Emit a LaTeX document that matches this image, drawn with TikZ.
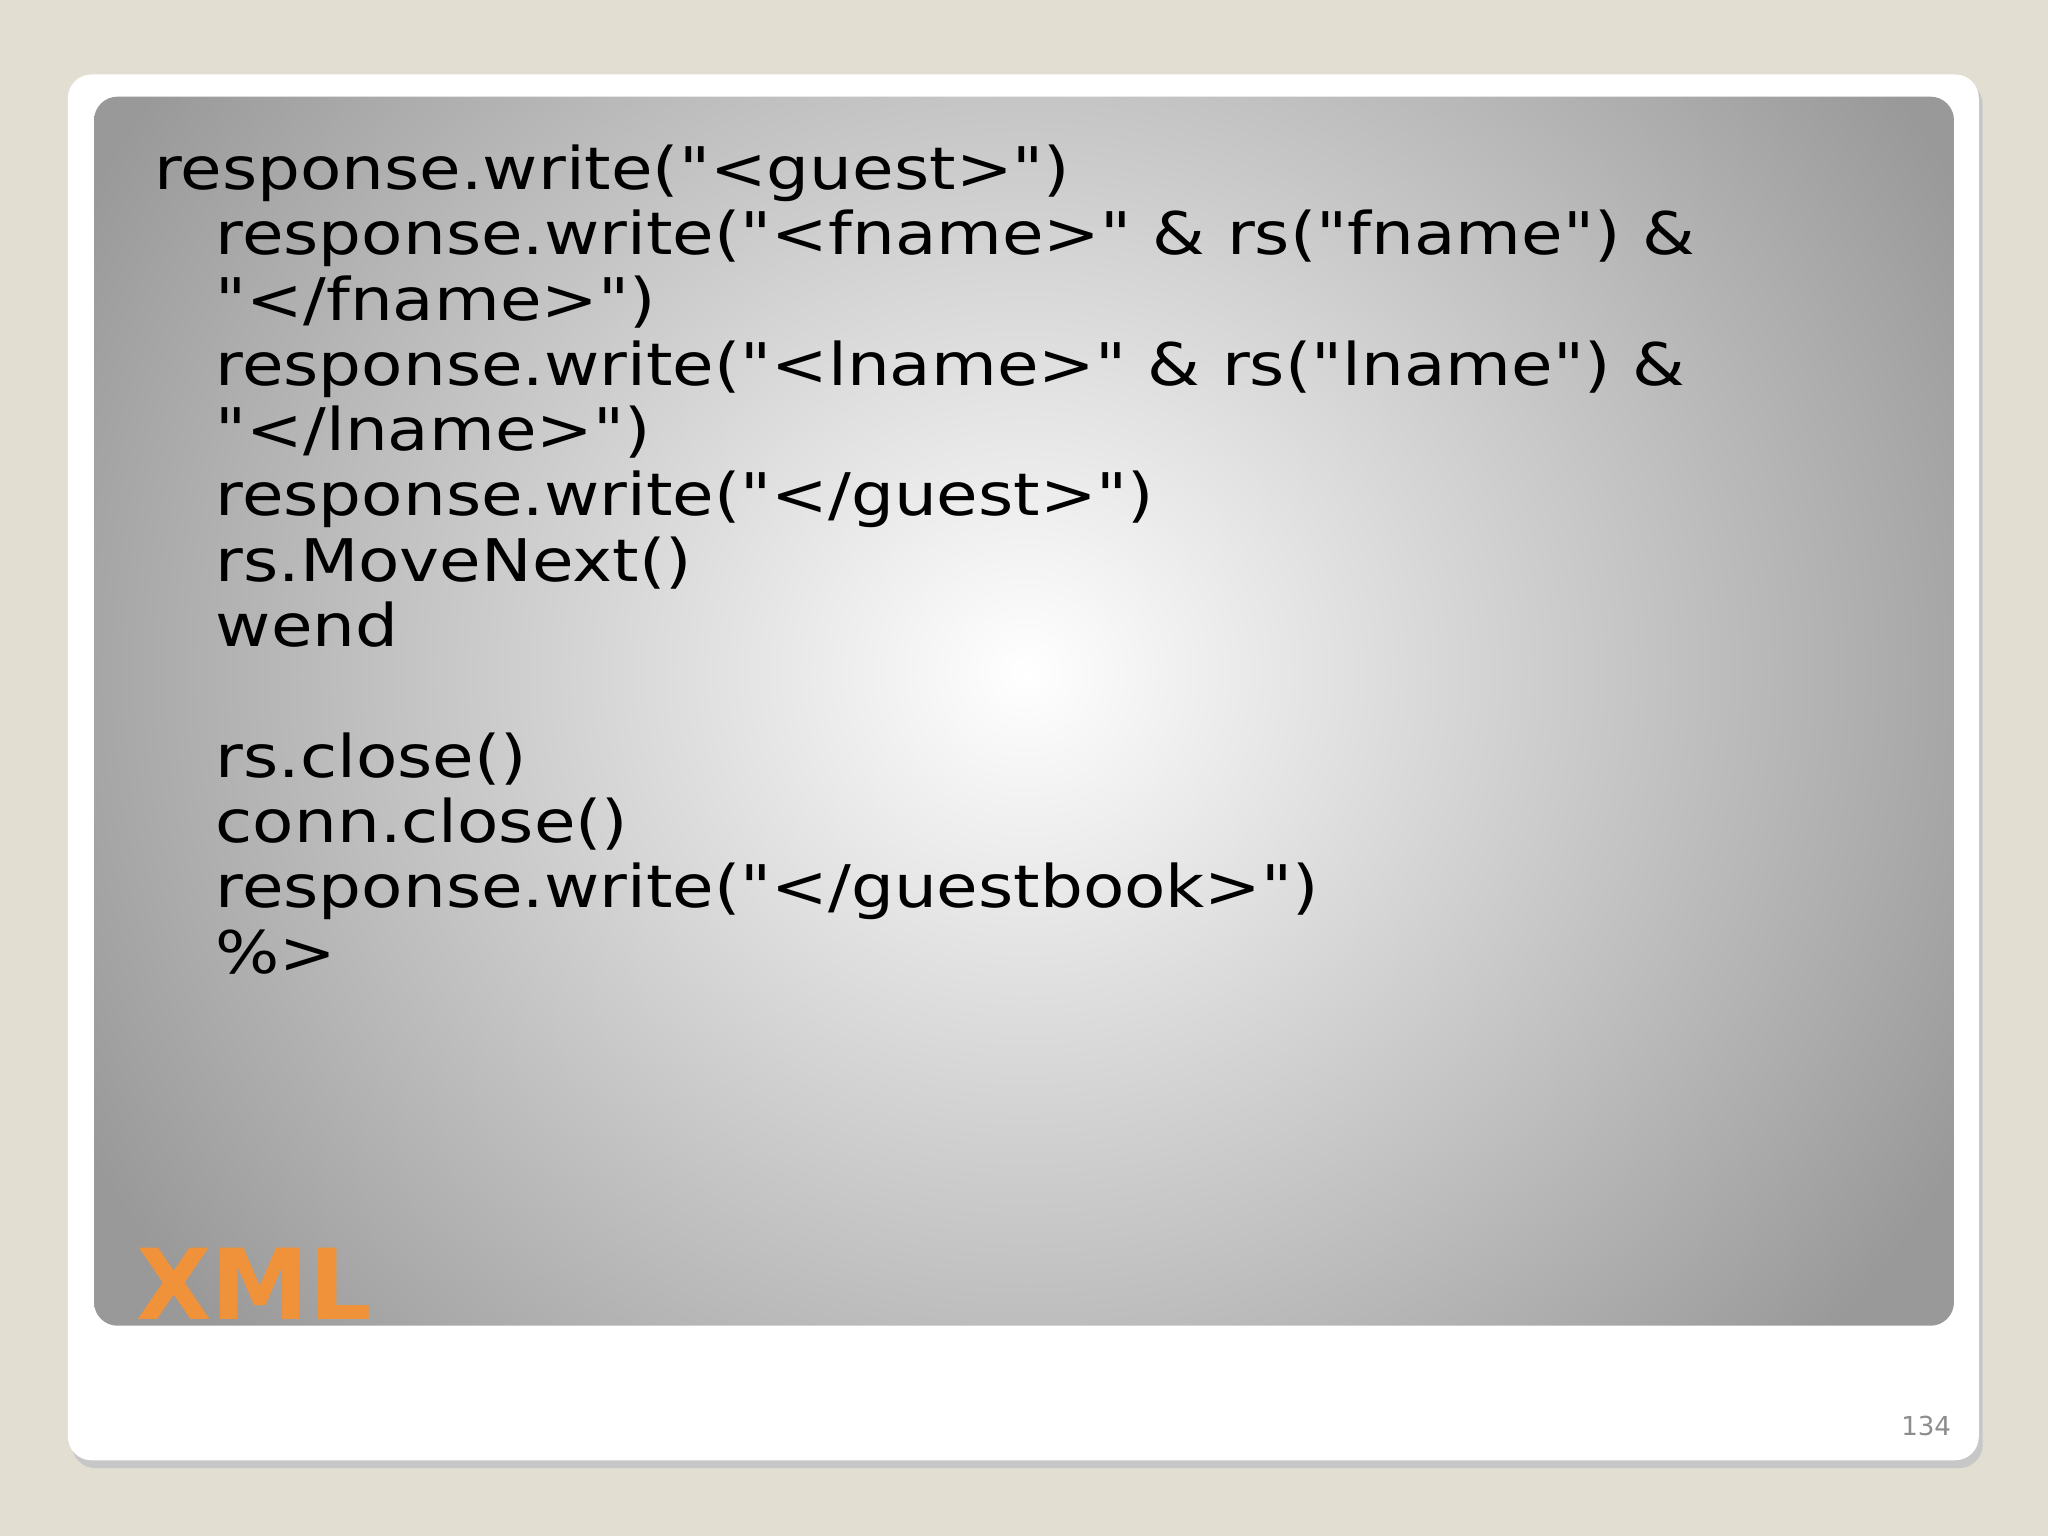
\documentclass[tikz,border=0pt]{standalone}
\usepackage{fontspec}
\setmainfont{DejaVu Sans}
\newfontfamily\codefont{DejaVu Sans}[FakeStretch=1.15]
\definecolor{bg}{HTML}{E2DED2}
\definecolor{xmlc}{HTML}{F0923A}
\begin{document}
\begin{tikzpicture}[x=1pt,y=-1pt,
  code/.style={anchor=base west,inner sep=0pt,font=\codefont\fontsize{45}{50}\selectfont}]
\useasboundingbox (0,0) rectangle (1568,1176);
\fill[bg] (0,0) rectangle (1568,1176);
\fill[black!22,rounded corners=18] (55,62) rectangle (1518,1124);
\fill[white,rounded corners=18] (52,57) rectangle (1515,1118);
\begin{scope}
\clip[rounded corners=18] (72,74) rectangle (1496,1015);
\shade[inner color=white,outer color=black!40] (-30,-260) rectangle (1600,1290);
\end{scope}
\node[code] (l1) at (118,145) {response.write("<guest>")};
\node[code] (l2) at (165,195) {response.write("<fname>" \& rs("fname") \&};
\node[code] (l3) at (165,245) {"</fname>")};
\node[code] (l4) at (165,295) {response.write("<lname>" \& rs("lname") \&};
\node[code] (l5) at (165,345) {"</lname>")};
\node[code] (l6) at (165,395) {response.write("</guest>")};
\node[code] (l7) at (165,445) {rs.MoveNext()};
\node[code] (l8) at (165,495) {wend};
\node[code] (l9) at (165,595) {rs.close()};
\node[code] (l10) at (165,645) {conn.close()};
\node[code] (l11) at (165,695) {response.write("</guestbook>")};
\node[code] (l12) at (165,745) {\%>};
\node[anchor=base west,inner sep=0pt,text=xmlc,font=\fontsize{75}{75}\bfseries\selectfont] (xml) at (104,1010) {XML};
\node[anchor=base east,inner sep=0pt,text=black!45,font=\fontsize{20}{20}\selectfont] (pg) at (1494,1099) {134};
\end{tikzpicture}
\end{document}
